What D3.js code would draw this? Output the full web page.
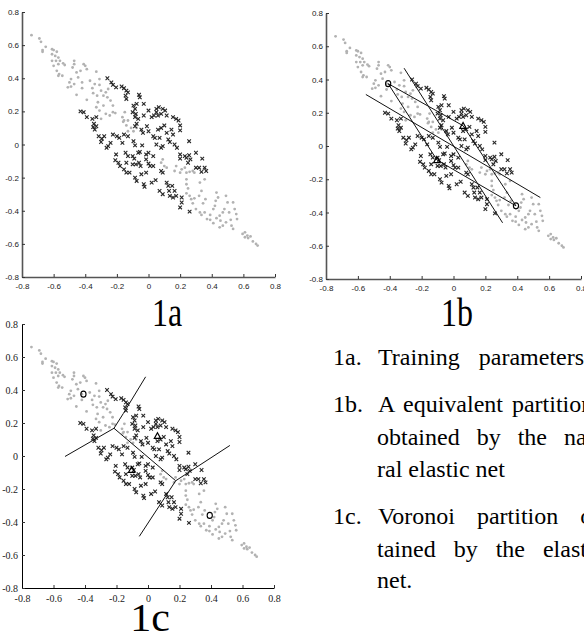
<!DOCTYPE html>
<html>
<head>
<meta charset="utf-8">
<script src="https://cdn.jsdelivr.net/npm/d3@7/dist/d3.min.js"></script>
<style>
  html, body { margin: 0; padding: 0; background: #fff; overflow: hidden; }
  svg { display: block; }
</style>
</head>
<body>
<svg id="chart" width="584" height="635"></svg>
<script>
// tick values shared by both axes of every panel
const ticks = [-0.8, -0.6, -0.4, -0.2, 0, 0.2, 0.4, 0.6, 0.8];

// grey dots (class 1)
const greyPts = [
  [-0.74,0.66],[-0.69,0.64],[-0.68,0.62],[-0.67,0.57],[-0.65,0.59],[-0.67,0.56],
  [-0.61,0.575],[-0.60,0.57],[-0.58,0.56],[-0.61,0.545],[-0.59,0.535],[-0.57,0.525],[-0.61,0.505],
  [-0.585,0.505],[-0.56,0.505],[-0.60,0.475],[-0.57,0.485],[-0.54,0.49],[-0.53,0.48],[-0.58,0.445],
  [-0.565,0.425],[-0.545,0.415],[-0.57,0.415],
  [-0.47,0.505],[-0.47,0.485],[-0.48,0.465],[-0.41,0.485],[-0.40,0.475],[-0.43,0.445],[-0.455,0.435],
  [-0.445,0.405],[-0.49,0.395],[-0.51,0.345],[-0.49,0.35],[-0.50,0.375],[-0.47,0.365],[-0.455,0.30],
  [-0.42,0.34],[-0.42,0.375],[-0.39,0.455],
  [-0.33,0.44],[-0.37,0.385],[-0.34,0.365],[-0.355,0.34],[-0.31,0.395],[-0.31,0.36],[-0.35,0.31],
  [-0.325,0.295],[-0.39,0.27],[-0.30,0.325],[-0.285,0.295],[-0.27,0.315],[-0.255,0.335],[-0.26,0.285],
  [-0.32,0.255],[-0.33,0.225],[-0.31,0.205],[-0.30,0.155],[-0.27,0.185],[-0.245,0.175],[-0.225,0.195],
  [-0.21,0.19],[-0.24,0.265],[-0.225,0.235],[-0.285,0.235],
  [-0.165,0.165],[-0.15,0.195],[-0.155,0.145],[-0.14,0.115],[-0.13,0.145],[-0.11,0.10],[-0.095,0.08],
  [-0.13,0.08],[-0.085,0.175],[-0.16,0.137],[-0.075,0.10],[-0.045,0.087],
  [0.08,-0.11],[0.09,-0.09],[0.10,-0.13],[0.115,-0.14],[0.165,-0.16],[0.175,-0.13],[0.20,-0.17],
  [0.21,-0.15],[0.23,-0.14],[0.24,-0.17],[0.26,-0.165],[0.28,-0.16],[0.29,-0.17],[0.24,-0.21],
  [0.24,-0.24],[0.25,-0.265],[0.26,-0.31],[0.27,-0.33],[0.29,-0.325],[0.28,-0.355],[0.24,-0.295],
  [0.325,-0.23],[0.335,-0.28],[0.32,-0.31],[0.355,-0.21],[0.36,-0.33],[0.345,-0.355],[0.30,-0.39],
  [0.325,-0.41],[0.335,-0.425],[0.355,-0.41],[0.37,-0.45],[0.39,-0.455],[0.39,-0.425],[0.41,-0.39],
  [0.42,-0.37],[0.425,-0.34],[0.43,-0.29],[0.44,-0.32],[0.41,-0.475],[0.43,-0.445],[0.45,-0.43],
  [0.455,-0.46],[0.47,-0.41],[0.48,-0.39],[0.49,-0.31],[0.50,-0.35],[0.51,-0.41],[0.52,-0.455],
  [0.49,-0.47],[0.47,-0.49],[0.45,-0.50],[0.525,-0.49],[0.535,-0.35],[0.545,-0.39],[0.555,-0.42],
  [0.56,-0.45],[0.535,-0.51],
  [0.595,-0.54],[0.61,-0.56],[0.625,-0.55],[0.63,-0.565],[0.61,-0.53],[0.645,-0.555],[0.66,-0.585],
  [0.68,-0.60],[0.69,-0.61]
];

// crosses (class 2)
const crossPts = [
  [-0.26,0.40],[-0.235,0.375],[-0.225,0.36],[-0.205,0.345],[-0.17,0.35],[-0.155,0.34],[-0.14,0.325],
  [-0.13,0.315],[-0.145,0.295],[-0.14,0.275],[-0.06,0.30],[-0.055,0.285],[-0.03,0.245],[-0.095,0.235],
  [-0.075,0.245],[-0.085,0.215],[-0.10,0.195],[-0.08,0.185],[-0.085,0.165],[-0.065,0.155],[-0.03,0.175],
  [0.0,0.205],[0.02,0.165],[0.035,0.175],[0.05,0.215],[0.065,0.225],[0.09,0.215],[0.105,0.205],
  [0.08,0.185],[0.06,0.175],[0.05,0.195],[0.115,0.175],[0.155,0.165],[0.175,0.155],[0.19,0.145],
  [0.20,0.115],[0.20,0.085],[0.145,0.09],[0.155,0.06],[0.125,0.03],[0.135,0.015],[0.165,0.0],
  [0.18,-0.02],[0.09,-0.01],[0.08,-0.02],[0.05,0.0],[0.04,0.04],[0.03,0.05],[0.06,0.09],[0.08,0.10],
  [0.10,0.115],[0.115,0.07],[0.07,0.04],[-0.01,0.11],[0.0,0.08],[-0.045,0.09],[-0.035,0.07],
  [-0.085,0.11],[-0.075,0.125],
  [-0.43,0.20],[-0.41,0.195],[-0.39,0.165],[-0.355,0.155],[-0.33,0.165],[-0.345,0.125],[-0.35,0.105],
  [-0.33,0.11],[-0.34,0.09],[-0.315,0.05],[-0.295,0.035],[-0.28,0.05],[-0.30,0.015],[-0.265,-0.02],
  [-0.255,-0.01],[-0.24,0.01],[-0.225,0.06],[-0.20,0.05],[-0.185,0.04],[-0.165,0.01],[-0.155,0.06],
  [-0.13,0.05],[-0.095,0.02],[-0.085,-0.005],[-0.04,-0.005],[-0.205,-0.06],[-0.21,-0.095],[-0.19,-0.11],
  [-0.18,-0.13],[-0.145,-0.05],[-0.13,-0.07],[-0.14,-0.11],[-0.10,-0.07],[-0.09,-0.085],[-0.065,-0.05],
  [-0.055,-0.045],[-0.015,-0.06],[0.0,-0.05],[0.03,-0.07],[-0.015,-0.09],[0.0,-0.115],[0.01,-0.13],
  [0.03,-0.13],[-0.10,-0.12],[-0.08,-0.12],[-0.06,-0.11],[-0.05,-0.13],[-0.155,-0.15],[-0.14,-0.17],
  [-0.12,-0.17],[-0.085,-0.20],[-0.075,-0.22],[-0.045,-0.18],[-0.015,-0.17],[-0.03,-0.24],[-0.025,-0.255],
  [0.02,-0.23],[0.045,-0.215],[0.07,-0.28],[0.09,-0.30],[0.115,-0.23],[0.125,-0.25],[0.13,-0.28],
  [0.135,-0.31],[0.155,-0.32],[0.15,-0.25],[0.165,-0.28],[0.175,-0.31],[0.21,-0.32],[0.21,-0.35],
  [0.20,-0.38],[0.08,-0.16],[0.09,-0.17],
  [0.20,-0.06],[0.20,-0.085],[0.23,-0.07],[0.24,-0.08],[0.257,-0.065],[0.265,-0.09],[0.25,-0.11],
  [0.30,-0.05],[0.257,0.02],[0.34,-0.085],[0.30,-0.14],[0.32,-0.14],[0.335,-0.165],[0.355,-0.14],
  [0.365,-0.16],[0.26,-0.405]
];

// elastic net nodes
const circleNodes = [[-0.41, 0.375], [0.392, -0.36]];
const triangleNodes = [[0.06, 0.122], [-0.104, -0.084]];

// 1b: net edges and the two partition lines
const netEdges = [
  [[-0.41, 0.375], [0.06, 0.122]],
  [[0.06, 0.122], [0.392, -0.36]],
  [[-0.41, 0.375], [-0.104, -0.084]],
  [[-0.104, -0.084], [0.392, -0.36]]
];
const partitionLines = [
  [[-0.55, 0.31], [0.545, -0.31]],
  [[-0.31, 0.468], [0.308, -0.462]]
];

// 1c: voronoi edges
const voronoiEdges = [
  [[-0.527, -0.003], [-0.216, 0.168]],
  [[-0.216, 0.168], [-0.157, 0.257], [-0.015, 0.48]],
  [[-0.216, 0.168], [0.176, -0.15]],
  [[0.176, -0.15], [0.52, 0.064]],
  [[0.176, -0.15], [-0.055, -0.487]]
];

const captionLines = [
  { x: 333, y: 365, t: "1a.", ws: 0 },
  { x: 378, y: 365, t: "Training parameters", ws: 13 },
  { x: 333, y: 412, t: "1b.", ws: 0 },
  { x: 378, y: 412, t: "A equivalent partition", ws: 3 },
  { x: 377, y: 445, t: "obtained by the natu-", ws: 11 },
  { x: 377, y: 477, t: "ral elastic net", ws: 0 },
  { x: 333, y: 524, t: "1c.", ws: 0 },
  { x: 378, y: 524, t: "Voronoi partition ob-", ws: 16 },
  { x: 377, y: 557, t: "tained by the elastic", ws: 12 },
  { x: 377, y: 588, t: "net.", ws: 0 }
];

const svg = d3.select("#chart");
const fmt = d => String(d);
const serif = "'Liberation Serif', 'Times New Roman', serif";
const sans = "'Liberation Sans', Arial, sans-serif";

const panels = [
  { id: "a", x0: 22, x1: 275, y0: 277, y1: 12, font: sans, fs: 8, axisColor: "#555", axisW: 1.6,
    padX: 6, padY: 3, label: "1a", lx: 167, ly: 326, lfs: 38, lsx: 0.84, lsy: 1.05 },
  { id: "b", x0: 326, x1: 581, y0: 279, y1: 13, font: sans, fs: 8, axisColor: "#555", axisW: 1.6,
    padX: 6, padY: 3, label: "1b", lx: 457, ly: 326, lfs: 38, lsx: 0.84, lsy: 1.05 },
  { id: "c", x0: 22, x1: 274, y0: 588, y1: 324, font: serif, fs: 10, axisColor: "#000", axisW: 1,
    padX: 7, padY: 4, label: "1c", lx: 150, ly: 631, lfs: 40, lsx: 1.05, lsy: 1 }
];

panels.forEach(p => {
  const x = d3.scaleLinear().domain([-0.8, 0.8]).range([p.x0, p.x1]);
  const y = d3.scaleLinear().domain([-0.8, 0.8]).range([p.y0, p.y1]);
  const g = svg.append("g");

  // points
  g.append("g").selectAll("circle")
    .data(greyPts)
    .join("circle")
    .attr("cx", d => x(d[0]))
    .attr("cy", d => y(d[1]))
    .attr("r", 1.4)
    .attr("fill", "#b2b2b2");

  const s = 1.8;
  g.append("g").selectAll("path")
    .data(crossPts)
    .join("path")
    .attr("d", d => {
      const cx = x(d[0]), cy = y(d[1]);
      return `M${cx - s},${cy - s}L${cx + s},${cy + s}M${cx - s},${cy + s}L${cx + s},${cy - s}`;
    })
    .attr("stroke", "#262626")
    .attr("stroke-width", 1.1)
    .attr("fill", "none");

  const line = d3.line().x(d => x(d[0])).y(d => y(d[1]));

  if (p.id === "b") {
    g.append("g").selectAll("path")
      .data(netEdges.concat(partitionLines))
      .join("path")
      .attr("d", line)
      .attr("stroke", "#111")
      .attr("stroke-width", 1)
      .attr("fill", "none");
  }
  if (p.id === "c") {
    g.append("g").selectAll("path")
      .data(voronoiEdges)
      .join("path")
      .attr("d", line)
      .attr("stroke", "#111")
      .attr("stroke-width", 1)
      .attr("fill", "none");
  }
  if (p.id !== "a") {
    g.append("g").selectAll("ellipse")
      .data(circleNodes)
      .join("ellipse")
      .attr("cx", d => x(d[0]))
      .attr("cy", d => y(d[1]))
      .attr("rx", 2.6)
      .attr("ry", 3)
      .attr("fill", "none")
      .attr("stroke", "#000")
      .attr("stroke-width", 1.1);
    g.append("g").selectAll("path")
      .data(triangleNodes)
      .join("path")
      .attr("d", d => {
        const cx = x(d[0]), cy = y(d[1]);
        return `M${cx - 3.2},${cy + 2.6}L${cx},${cy - 3.2}L${cx + 3.2},${cy + 2.6}Z`;
      })
      .attr("fill", "none")
      .attr("stroke", "#000")
      .attr("stroke-width", 1.2);
  }

  // axes
  const ax = g.append("g")
    .attr("transform", `translate(0,${p.y0})`)
    .call(d3.axisBottom(x).tickValues(ticks).tickSize(-3).tickSizeOuter(0)
      .tickPadding(p.padX).tickFormat(fmt));
  const ay = g.append("g")
    .attr("transform", `translate(${p.x0},0)`)
    .call(d3.axisLeft(y).tickValues(ticks).tickSize(-3).tickSizeOuter(0)
      .tickPadding(p.padY).tickFormat(fmt));

  [ax, ay].forEach(a => {
    a.select(".domain").attr("stroke", p.axisColor).attr("stroke-width", p.axisW);
    a.selectAll(".tick line").attr("stroke", "#333");
    a.selectAll("text")
      .attr("fill", "#222")
      .style("font-family", p.font)
      .style("font-size", p.fs + "px");
  });

  svg.append("text")
    .attr("transform", `translate(${p.lx},${p.ly}) scale(${p.lsx},${p.lsy})`)
    .attr("text-anchor", "middle")
    .style("font-family", serif)
    .style("font-size", p.lfs + "px")
    .attr("fill", "#000")
    .text(p.label);
});

svg.append("g").selectAll("text")
  .data(captionLines)
  .join("text")
  .attr("x", d => d.x)
  .attr("y", d => d.y)
  .style("font-family", serif)
  .style("font-size", "24px")
  .style("word-spacing", d => d.ws + "px")
  .attr("fill", "#000")
  .text(d => d.t);
</script>
</body>
</html>
